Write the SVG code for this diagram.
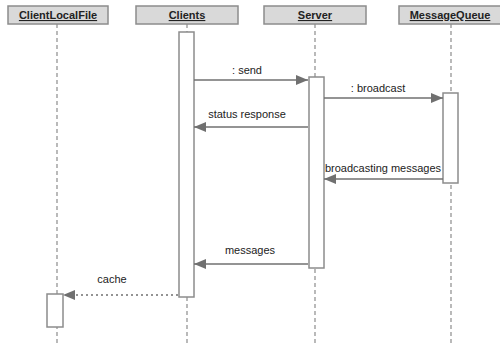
<svg xmlns="http://www.w3.org/2000/svg" width="500" height="345" viewBox="0 0 500 345">
<style>
.hdr{fill:#d9d9d9;stroke:#8c8c8c;stroke-width:1.5}
.ht{font-family:"Liberation Sans",Arial,sans-serif;font-size:11px;font-weight:bold;text-decoration:underline;fill:#222;text-anchor:middle}
.life{stroke:#8c8c8c;stroke-width:1.2;stroke-dasharray:4,3;fill:none}
.act{fill:#fff;stroke:#8c8c8c;stroke-width:1.5}
.msg{stroke:#707070;stroke-width:1.5;fill:none}
.dot{stroke:#707070;stroke-width:1.5;fill:none;stroke-dasharray:2,3}
.lbl{font-family:"Liberation Sans",Arial,sans-serif;font-size:11px;fill:#222;text-anchor:middle}
</style>
<defs>
<marker id="ah" viewBox="0 0 12 10" refX="12" refY="5" markerWidth="12" markerHeight="10" markerUnits="userSpaceOnUse" orient="auto">
<path d="M0,0 L12,5 L0,10 Z" fill="#707070"/>
</marker>
</defs>
<g id="ClientLocalFile">
<line class="life" x1="57" y1="24" x2="57" y2="345"/>
<rect class="hdr" x="8" y="6" width="100" height="18"/>
<text class="ht" x="58" y="19">ClientLocalFile</text>
<rect class="act" x="47" y="294" width="16" height="33"/>
</g>
<g id="Clients">
<line class="life" x1="187" y1="24" x2="187" y2="345"/>
<rect class="hdr" x="136" y="6" width="102" height="18"/>
<text class="ht" x="187" y="19">Clients</text>
<rect class="act" x="179" y="32" width="15" height="265"/>
</g>
<g id="Server">
<line class="life" x1="315" y1="24" x2="315" y2="345"/>
<rect class="hdr" x="264" y="6" width="102" height="18"/>
<text class="ht" x="315" y="19">Server</text>
<rect class="act" x="309" y="77" width="15" height="191"/>
</g>
<g id="MessageQueue">
<line class="life" x1="451" y1="24" x2="451" y2="345"/>
<rect class="hdr" x="399" y="6" width="103" height="18"/>
<text class="ht" x="450" y="19">MessageQueue</text>
<rect class="act" x="443" y="93" width="15" height="90"/>
</g>
<g id="connectors">
<line class="msg" x1="194" y1="80" x2="308" y2="80" marker-end="url(#ah)"/>
<text class="lbl" x="247" y="74">: send</text>
<line class="msg" x1="324" y1="98" x2="443" y2="98" marker-end="url(#ah)"/>
<text class="lbl" x="378" y="92">: broadcast</text>
<line class="msg" x1="308" y1="127" x2="194" y2="127" marker-end="url(#ah)"/>
<text class="lbl" x="247" y="118">status response</text>
<line class="msg" x1="443" y1="179" x2="324" y2="179" marker-end="url(#ah)"/>
<text class="lbl" x="383" y="172">broadcasting messages</text>
<line class="msg" x1="308" y1="264" x2="194" y2="264" marker-end="url(#ah)"/>
<text class="lbl" x="250" y="254">messages</text>
<line class="dot" x1="178" y1="295" x2="63" y2="295" marker-end="url(#ah)"/>
<text class="lbl" x="112" y="283">cache</text>
</g>
</svg>
